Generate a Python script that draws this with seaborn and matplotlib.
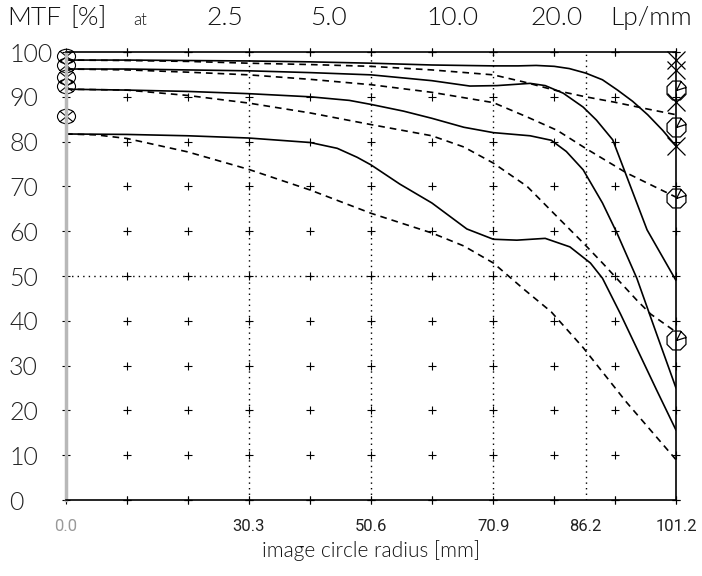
import numpy as np
import pandas as pd
import matplotlib
matplotlib.use("Agg")
import matplotlib.pyplot as plt
from matplotlib.path import Path
from matplotlib.transforms import Affine2D
import seaborn as sns

# --- values ---
# radius in mm, MTF in %
s25_x = [0, 10.1, 20.2, 30.3, 40.5, 50.6, 60.7, 70.9, 75, 78, 81, 83.5, 86.2, 89, 91.5, 94, 96.5, 99, 101.2]
s25_y = [98.2, 98.2, 98.1, 98.0, 97.8, 97.5, 97.1, 96.9, 96.9, 97.0, 96.8, 96.3, 95.3, 93.8, 91.5, 89.0, 86.0, 82.5, 79.0]
t25_x = [0, 10.1, 20.2, 30.3, 40.5, 50.6, 60.7, 70.9, 76, 81, 86.2, 91, 96, 101.2]
t25_y = [98.2, 98.1, 97.9, 97.5, 97.2, 96.8, 96.0, 94.9, 93.3, 91.5, 90.0, 88.8, 87.4, 86.0]

s50_x = [0, 10.1, 20.2, 30.3, 40.5, 50.6, 60.7, 67, 71.5, 77, 79.5, 82.5, 85.8, 88, 90.7, 93, 96.4, 101.2]
s50_y = [96.2, 96.2, 96.0, 95.8, 95.4, 94.9, 93.6, 92.4, 92.5, 93.0, 92.5, 90.8, 87.7, 84.8, 80.4, 72.3, 60.3, 49.0]
t50_x = [0, 10.1, 20.2, 30.3, 40.5, 50.6, 60.7, 70.9, 76.5, 81.5, 86.2, 93, 101.2]
t50_y = [96.2, 96.0, 95.5, 94.9, 93.9, 92.7, 91.0, 88.7, 85.5, 82.5, 78.5, 73.0, 67.6]

s10_x = [0, 10.1, 20.2, 30.3, 40.5, 47, 50.6, 56, 60.7, 66, 70.9, 77, 80.5, 83, 85.8, 89, 91.4, 94.7, 98, 101.2]
s10_y = [91.7, 91.5, 91.2, 90.7, 90.0, 89.2, 88.3, 86.8, 85.2, 83.2, 82.0, 81.3, 80.3, 77.8, 73.7, 66.3, 59.6, 49.5, 37.0, 25.0]
t10_x = [0, 10.1, 20.2, 30.3, 40.5, 50.6, 60.7, 66, 70.9, 76.5, 81.5, 85.8, 89, 94.7, 97, 101.2]
t10_y = [91.7, 91.5, 90.3, 88.6, 86.4, 83.8, 81.3, 78.8, 75.2, 70.0, 63.2, 57.4, 52.9, 44.6, 41.5, 37.5]

s20_x = [0, 10.1, 20.2, 30.3, 40.5, 45, 48.3, 50.6, 55.4, 60.7, 66.5, 70.9, 74.8, 79.5, 83.6, 87, 89, 92, 95, 98, 101.2]
s20_y = [81.7, 81.6, 81.3, 80.8, 79.8, 78.5, 76.5, 74.8, 70.5, 66.3, 60.5, 58.2, 58.0, 58.4, 56.5, 52.9, 49.5, 41.5, 33.0, 24.5, 15.6]
t20_x = [0, 5, 10.1, 20.2, 30.3, 40.5, 50.6, 60.7, 66, 70.9, 76, 80.5, 85.8, 93, 101.2]
t20_y = [81.7, 81.5, 80.7, 77.7, 73.8, 69.2, 64.0, 59.6, 56.7, 52.9, 47.0, 42.0, 34.0, 21.8, 9.0]

# end / start symbols
left_marks = [99.1, 97.1, 94.4, 92.4, 85.7]
right_x_marks = [98.2, 96.0, 88.8, 79.0]
right_o_marks = [91.5, 83.3, 67.4, 35.7]

x_ticks = [0.0, 30.3, 50.6, 70.9, 86.2, 101.2]
x_tick_labels = ["0.0", "30.3", "50.6", "70.9", "86.2", "101.2"]
y_ticks = list(range(0, 101, 10))
r_max = 101.2

# header words and their centres (px from left)
head_words = ["MTF", "[%]", "at", "2.5", "5.0", "10.0", "20.0", "Lp/mm"]
head_pos = [34, 89, 140, 225, 328, 452, 557, 651]

curves = [
    ("2.5", "sag", s25_x, s25_y), ("2.5", "tan", t25_x, t25_y),
    ("5.0", "sag", s50_x, s50_y), ("5.0", "tan", t50_x, t50_y),
    ("10.0", "sag", s10_x, s10_y), ("10.0", "tan", t10_x, t10_y),
    ("20.0", "sag", s20_x, s20_y), ("20.0", "tan", t20_x, t20_y),
]
df = pd.concat(
    [pd.DataFrame({"r": x, "mtf": y, "freq": f, "dir": d, "curve": f + d})
     for f, d, x, y in curves],
    ignore_index=True,
)

sns.set_style("white")
plt.rcParams["font.family"] = ["DejaVu Sans"]
thin = ["Lato", "Roboto", "DejaVu Sans"]
thin_w = 300

fig = plt.figure(figsize=(7.02, 5.76), dpi=100)
ax = fig.add_axes([66 / 702, 76 / 576, 610 / 702, 448 / 576])

sns.lineplot(
    data=df, x="r", y="mtf", units="curve", style="dir",
    dashes={"sag": "", "tan": (4, 3)}, estimator=None, sort=False,
    color="black", lw=1.2, legend=False, ax=ax,
)

# dotted reference lines
for xv in [30.3, 50.6, 70.9, 86.2]:
    ax.plot([xv, xv], [0, 100], color="black", lw=1.0, ls=(0, (1, 3)))
ax.plot([0, r_max], [50, 50], color="black", lw=1.0, ls=(0, (1, 3)))

# + grid
gx = np.arange(1, 11) * r_max / 10
gxx, gyy = np.meshgrid(gx, y_ticks)
ax.plot(gxx.ravel(), gyy.ravel(), ls="none", marker="+", ms=6, mew=0.8,
        color="black", clip_on=False)
gxt = np.arange(0, 11) * r_max / 10
ax.plot(gxt, [100] * len(gxt), ls="none", marker="+", ms=6, mew=0.8, color="black", clip_on=False)
ax.plot(gxt, [0] * len(gxt), ls="none", marker="+", ms=6, mew=0.8, color="black", clip_on=False)
ax.plot([0] * 9, y_ticks[1:10], ls="none", marker="_", ms=6, mew=0.8, color="black", clip_on=False)

# symbols
circ = Path.unit_circle().transformed(Affine2D().scale(1.0, 0.8))
circle_x = Path.make_compound_path(
    circ, Path([(-0.75, -0.6), (0.75, 0.6)]), Path([(-0.75, 0.6), (0.75, -0.6)]))
ang = np.pi / 8 + np.arange(9) * np.pi / 4
octo = Path(np.column_stack([np.cos(ang), np.sin(ang)]))
octo_clock = Path.make_compound_path(
    octo, Path([(0, 0), (0.95, 0.3)]), Path([(0, 0), (0.45, 0.88)]))

ax.plot([0] * len(left_marks), left_marks, ls="none", marker=circle_x, ms=13,
        mfc="none", mec="black", mew=0.8, clip_on=False)
ax.plot([r_max] * len(right_x_marks), right_x_marks, ls="none", marker="x", ms=13,
        mec="black", mew=0.9, clip_on=False)
ax.plot([r_max] * len(right_o_marks), right_o_marks, ls="none", marker=octo_clock, ms=14,
        mfc="none", mec="black", mew=0.9, clip_on=False)

ax.set_xlim(0, r_max)
ax.set_ylim(0, 100)

for side in ["top", "bottom", "right"]:
    ax.spines[side].set_color("black")
    ax.spines[side].set_linewidth(1.2)
ax.spines["left"].set_color("#b8b8b8")
ax.spines["left"].set_linewidth(2.5)

ax.set_xticks(x_ticks, x_tick_labels)
ax.set_yticks(y_ticks, [str(v) for v in y_ticks])
ax.tick_params(axis="x", length=0, pad=14, labelsize=12, labelcolor="#222222")
ax.tick_params(axis="y", length=0, pad=41, labelsize=18, labelcolor="#222222")
for lab in ax.get_yticklabels():
    lab.set_ha("left")
    lab.set_family(thin)
    lab.set_fontweight(thin_w)
for lab in ax.get_xticklabels():
    lab.set_family(["Liberation Sans Narrow", "Roboto", "DejaVu Sans"])
ax.get_xticklabels()[0].set_color("#999999")
ax.set_xlabel("image circle radius [mm]", fontsize=15, color="#111111", labelpad=4,
              family=thin, fontweight=thin_w)
ax.set_ylabel("")

# header line
for word, xp in zip(head_words, head_pos):
    small = word == "at"
    fig.text(xp / 702, 1 - (20 if small else 18) / 576, word,
             fontsize=12 if small else 19, color="#111111", fontweight=thin_w,
             ha="center", va="center", family=thin)

fig.savefig("out.png", dpi=100)
